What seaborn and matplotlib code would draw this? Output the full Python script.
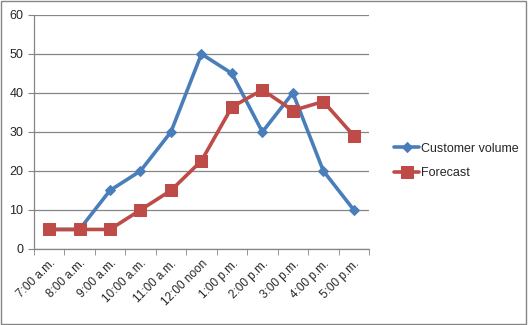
import matplotlib
matplotlib.use("Agg")
import matplotlib.pyplot as plt
from matplotlib.patches import Rectangle
import numpy as np
import pandas as pd
import seaborn as sns

# Data
hours = ["7:00 a.m.", "8:00 a.m.", "9:00 a.m.", "10:00 a.m.", "11:00 a.m.",
         "12:00 noon", "1:00 p.m.", "2:00 p.m.", "3:00 p.m.", "4:00 p.m.", "5:00 p.m."]
customer_volume = [5, 5, 15, 20, 30, 50, 45, 30, 40, 20, 10]
forecast = [5, 5, 5, 10, 15, 22.6, 36.4, 40.8, 35.5, 37.8, 29.0]

sns.set_style("white")
plt.rcParams['font.family'] = ['Liberation Sans', 'DejaVu Sans']

df = pd.DataFrame({"idx": np.arange(len(hours)),
                   "Customer volume": customer_volume,
                   "Forecast": forecast})

fig = plt.figure(figsize=(5.28, 3.25), dpi=100)
ax = fig.add_axes([0.064, 0.234, 0.635, 0.72])

sns.lineplot(data=df, x="idx", y="Customer volume", ax=ax, color="#4a7ebb",
             lw=2.6, marker="D", markersize=5.5, markeredgecolor="#4a7ebb",
             label="Customer volume")
sns.lineplot(data=df, x="idx", y="Forecast", ax=ax, color="#be4b48",
             lw=2.6, marker="s", markersize=8, markeredgecolor="#be4b48",
             label="Forecast")

ax.set_xlim(-0.5, len(hours) - 0.5)
ax.set_ylim(0, 60)
ax.set_yticks(range(0, 61, 10))
ax.set_xticks(np.arange(len(hours)))
ax.set_xticklabels(hours, rotation=45, ha="right", rotation_mode="anchor", fontsize=8.5)
ax.tick_params(axis="x", length=0, pad=6)
ax.set_xticks(np.arange(-0.5, len(hours)), minor=True)
ax.tick_params(axis="x", which="minor", length=4, color="#868686", direction="out", bottom=True)
ax.tick_params(axis="y", labelsize=9, length=4, color="#868686", left=True, direction="out")
ax.set_xlabel("")
ax.set_ylabel("")
ax.grid(axis="y", color="#868686", lw=0.9)
ax.set_axisbelow(True)
for s in ["top", "right"]:
    ax.spines[s].set_visible(False)
for s in ["left", "bottom"]:
    ax.spines[s].set_color("#868686")
    ax.spines[s].set_linewidth(0.9)

ax.legend_.remove()
handles, labels = ax.get_legend_handles_labels()
fig.legend(handles, labels, loc="center left", bbox_to_anchor=(0.725, 0.505),
           frameon=False, fontsize=9, handlelength=2.0, labelspacing=1.0,
           handletextpad=0.15)

fig.patches.append(Rectangle((0.002, 0.003), 0.995, 0.994, transform=fig.transFigure,
                             fill=False, edgecolor="#868686", lw=1))

fig.savefig("out.png", dpi=100)
